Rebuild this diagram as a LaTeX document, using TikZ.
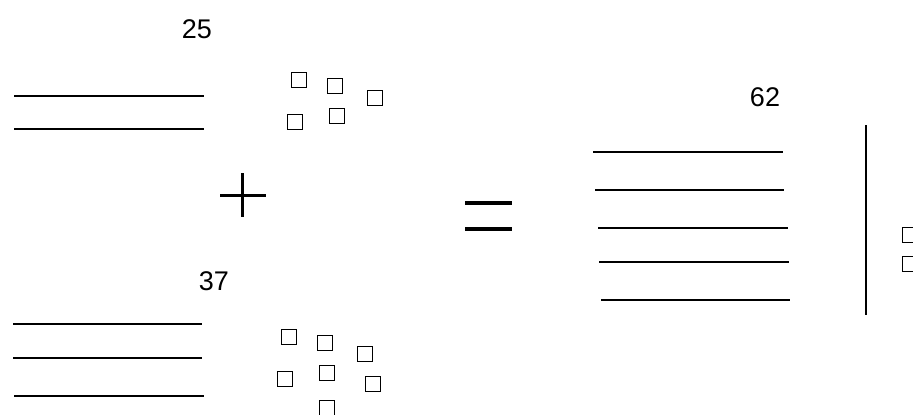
\documentclass[tikz,border=0pt]{standalone}
\usepackage{fontspec}
\setmainfont{Liberation Sans}
\begin{document}
\begin{tikzpicture}[x=1pt,y=-1pt,
  bar/.style={line width=1.4pt},
  unit/.style={draw, line width=1.6pt, minimum size=15pt, inner sep=0pt},
  num/.style={font=\fontsize{27}{30}\selectfont, inner sep=0pt}]
\useasboundingbox[fill=white] (0,0) rectangle (913,415);
% 25
\node[num] (t25) at (197,29) {25};
\draw[bar] (14,96) -- (204,96);
\draw[bar] (14,129) -- (204,129);
\node[unit] (a1) at (299,80) {};
\node[unit] (a2) at (335,86) {};
\node[unit] (a3) at (375,98) {};
\node[unit] (a4) at (295,122) {};
\node[unit] (a5) at (337,116) {};
% plus
\draw[line width=3pt] (220,195) -- (266,195);
\draw[line width=3pt] (242,173) -- (242,217);
% 37
\node[num] (t37) at (214,281) {37};
\draw[bar] (13,324) -- (202,324);
\draw[bar] (13,358) -- (202,358);
\draw[bar] (14,396) -- (204,396);
\node[unit] (b1) at (289,337) {};
\node[unit] (b2) at (325,343) {};
\node[unit] (b3) at (365,354) {};
\node[unit] (b4) at (285,379) {};
\node[unit] (b5) at (327,373) {};
\node[unit] (b6) at (373,384) {};
\node[unit] (b7) at (327,408) {};
% equals
\draw[line width=3.5pt] (465,203) -- (512,203);
\draw[line width=3.5pt] (465,229) -- (512,229);
% 62
\node[num] (t62) at (765,97) {62};
\draw[bar] (593,152) -- (783,152);
\draw[bar] (595,190) -- (784,190);
\draw[bar] (598,228) -- (788,228);
\draw[bar] (599,262) -- (789,262);
\draw[bar] (601,300) -- (790,300);
\draw[line width=1.8pt] (866,125) -- (866,315);
\node[unit] (c1) at (910,235) {};
\node[unit] (c2) at (910,264) {};
\end{tikzpicture}
\end{document}
